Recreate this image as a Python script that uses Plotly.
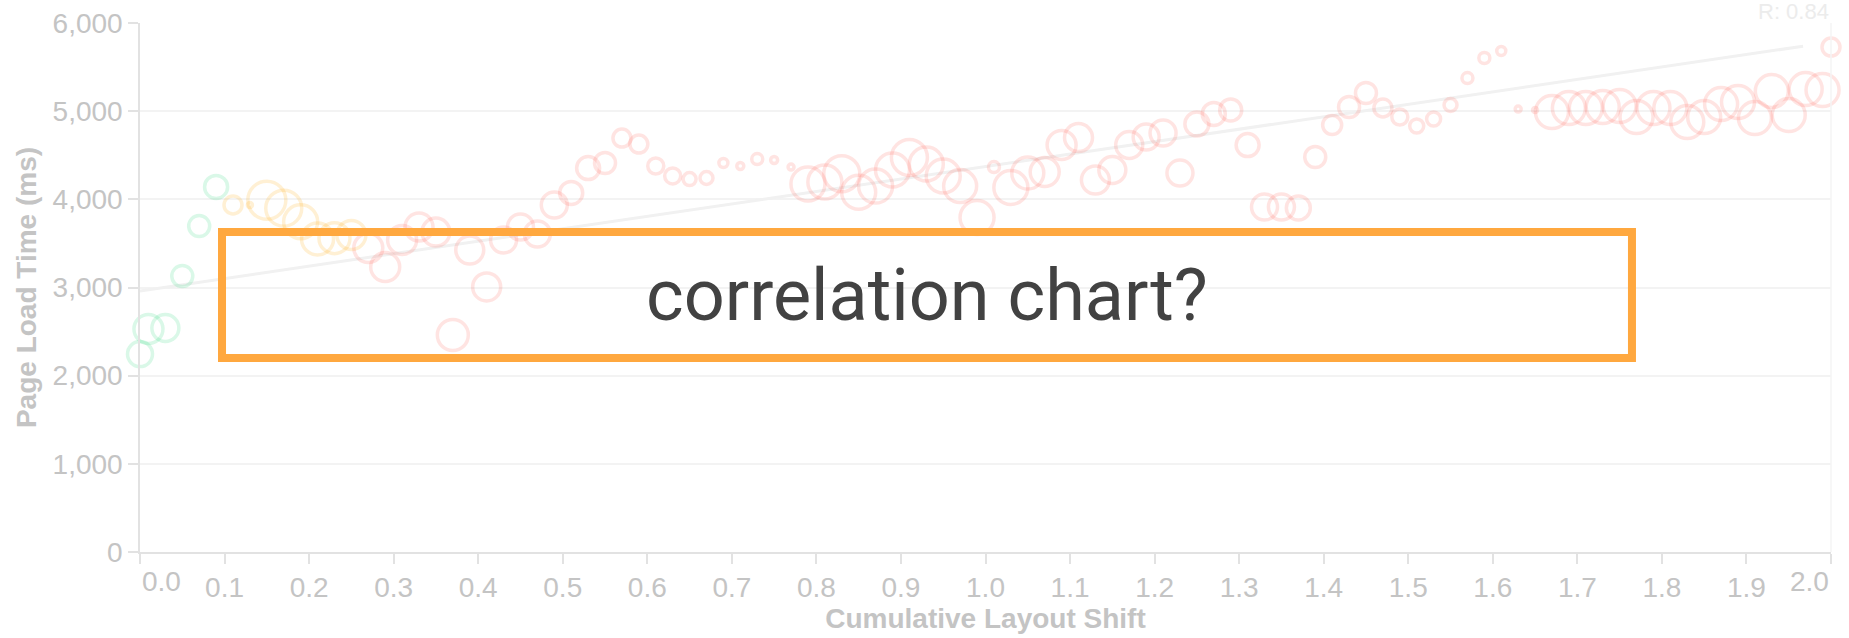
import plotly.graph_objects as go

# CLS bins (x), median page load time (y) and bubble sizes
cls_values = [
    0.00, 0.01, 0.03, 0.05, 0.07, 0.09, 0.11, 0.13, 0.15, 0.17, 0.19,
    0.21, 0.23, 0.25, 0.27, 0.29, 0.31, 0.33, 0.35, 0.37, 0.39,
    0.41, 0.43, 0.45, 0.47, 0.49, 0.51, 0.53, 0.55, 0.57, 0.59,
    0.61, 0.63, 0.65, 0.67, 0.69, 0.71, 0.73, 0.75, 0.77, 0.79,
    0.81, 0.83, 0.85, 0.87, 0.89, 0.91, 0.93, 0.95, 0.97, 0.99,
    1.01, 1.03, 1.05, 1.07, 1.09, 1.11, 1.13, 1.15, 1.17, 1.19,
    1.21, 1.23, 1.25, 1.27, 1.29, 1.31, 1.33, 1.35, 1.37, 1.39,
    1.41, 1.43, 1.45, 1.47, 1.49, 1.51, 1.53, 1.55, 1.57, 1.59,
    1.61, 1.63, 1.65, 1.67, 1.69, 1.71, 1.73, 1.75, 1.77, 1.79,
    1.81, 1.83, 1.85, 1.87, 1.89, 1.91, 1.93, 1.95, 1.97, 1.99, 2.00,
]
load_ms = [
    2245, 2530, 2540, 3130, 3697, 4140, 3936, 3936, 3990, 3900, 3745,
    3550, 3560, 3595, 3448, 3232, 3539, 3686, 3629, 2461, 3425,
    3006, 3539, 3686, 3607, 3936, 4072, 4355, 4412, 4695, 4627,
    4378, 4265, 4230, 4242, 4412, 4378, 4457, 4446, 4366, 4175,
    4196, 4290, 4080, 4150, 4332, 4475, 4400, 4265, 4150, 3795,
    4366, 4135, 4298, 4310, 4616, 4700, 4219, 4332, 4616, 4707,
    4752, 4298, 4854, 4968, 5013, 4616, 3913, 3913, 3902, 4480,
    4843, 5047, 5206, 5036, 4934, 4832, 4911, 5070, 5376, 5603,
    5682, 5024, 5013, 4990, 5036, 5036, 5047, 5058, 4934, 5036,
    5036, 4877, 4934, 5081, 5104, 4922, 5228, 4956, 5251, 5240, 5727,
]
bubble = [
    25, 29, 27, 21, 21, 23, 18, 5, 38, 36, 34,
    32, 31, 29, 29, 29, 29, 28, 28, 31, 28,
    28, 26, 26, 26, 26, 23, 23, 21, 18, 18,
    16, 16, 13, 13, 9, 7, 11, 7, 6, 34,
    34, 36, 34, 34, 34, 36, 34, 34, 33, 34,
    11, 34, 32, 29, 29, 28, 28, 27, 27, 26,
    26, 26, 24, 23, 22, 23, 26, 26, 24, 21,
    19, 21, 21, 18, 16, 14, 14, 13, 11, 11,
    9, 6, 5, 33, 33, 33, 33, 33, 33, 33,
    33, 33, 33, 33, 33, 33, 33, 33, 33, 33, 18,
]

trend_x = [0.0, 1.967]
trend_y = [2960, 5737]
r_value = 0.84

x_ticks = [0.0, 0.1, 0.2, 0.3, 0.4, 0.5, 0.6, 0.7, 0.8, 0.9, 1.0,
           1.1, 1.2, 1.3, 1.4, 1.5, 1.6, 1.7, 1.8, 1.9, 2.0]
y_ticks = [0, 1000, 2000, 3000, 4000, 5000, 6000]

groups = [
    ("good", lambda v: v < 0.1, "rgba(12,206,107,0.22)"),
    ("needs improvement", lambda v: 0.1 <= v < 0.26, "rgba(255,164,0,0.24)"),
    ("poor", lambda v: v >= 0.26, "rgba(255,78,66,0.22)"),
]

FONT = "Liberation Sans, Arial, sans-serif"
GREY = "#c4c4c4"

fig = go.Figure()

fig.add_trace(go.Scatter(
    x=trend_x, y=trend_y, mode="lines",
    line=dict(color="#f1f1f1", width=3),
    hoverinfo="skip", showlegend=False,
))

for name, test, col in groups:
    idx = [i for i, v in enumerate(cls_values) if test(v)]
    fig.add_trace(go.Scatter(
        x=[cls_values[i] for i in idx],
        y=[load_ms[i] for i in idx],
        mode="markers",
        name=name,
        cliponaxis=False,
        marker=dict(
            symbol="circle-open",
            size=[bubble[i] for i in idx],
            color=col,
            line=dict(width=3.5, color=col),
        ),
        showlegend=False,
    ))

tick_text = ["" if t in (0.0, 2.0) else f"{t:.1f}" for t in x_ticks]

fig.update_layout(
    width=1849, height=638,
    margin=dict(l=140, r=18, t=23, b=86),
    paper_bgcolor="white", plot_bgcolor="white",
    font=dict(family=FONT, size=28, color=GREY),
    xaxis=dict(
        range=[0, 2], tickvals=x_ticks, ticktext=tick_text,
        automargin=False,
        showgrid=False, zeroline=False,
        showline=True, linecolor="#e2e2e2", linewidth=1.5,
        ticks="outside", ticklen=10, tickcolor="#e2e2e2", tickwidth=1.5,
        tickfont=dict(size=28, color=GREY),
        title=dict(text="<b>Cumulative Layout Shift</b>", standoff=4,
                   font=dict(size=28, color=GREY)),
    ),
    yaxis=dict(
        range=[0, 6000], tickvals=y_ticks, tickformat=",",
        automargin=False,
        showgrid=True, gridcolor="#f3f3f3", gridwidth=1.5, zeroline=False,
        showline=True, linecolor="#e2e2e2", linewidth=1.5,
        ticks="outside", ticklen=10, tickcolor="#e2e2e2", tickwidth=1.5,
        tickfont=dict(size=28, color=GREY),
        title=dict(text="<b>Page Load Time (ms)</b>", standoff=8,
                   font=dict(size=28, color=GREY)),
    ),
)

# flush edge labels like the original axis
fig.add_annotation(x=0.0, y=-0.055, xref="x", yref="paper", text="0.0",
                   showarrow=False, xanchor="left", yanchor="middle",
                   font=dict(size=28, color=GREY))
fig.add_annotation(x=2.0, y=-0.055, xref="x", yref="paper", text="2.0",
                   showarrow=False, xanchor="right", yanchor="middle",
                   font=dict(size=28, color=GREY))

fig.add_annotation(x=1, y=1.022, xref="paper", yref="paper",
                   text=f"R: {r_value:.2f}", showarrow=False,
                   xanchor="right", yanchor="middle",
                   font=dict(size=22, color="#ececec"))

# faint right border
fig.add_shape(type="line", xref="paper", yref="paper", x0=1, x1=1, y0=0, y1=1,
              line=dict(color="#f4f4f4", width=1.5))

# overlaid question box
fig.add_shape(type="rect", xref="paper", yref="paper",
              x0=0.0485, x1=0.8823, y0=0.3667, y1=0.6049,
              line=dict(color="#ffa83f", width=8), fillcolor="rgba(0,0,0,0)")
fig.add_annotation(x=0.4654, y=0.4858, xref="paper", yref="paper",
                   text="correlation chart?", showarrow=False,
                   xanchor="center", yanchor="middle",
                   font=dict(family="Roboto", size=72, color="#424242"))

fig.write_html(
    "out.html",
    config={"displayModeBar": False},
    post_script="document.body.style.margin='0';document.body.style.overflow='hidden';",
)
